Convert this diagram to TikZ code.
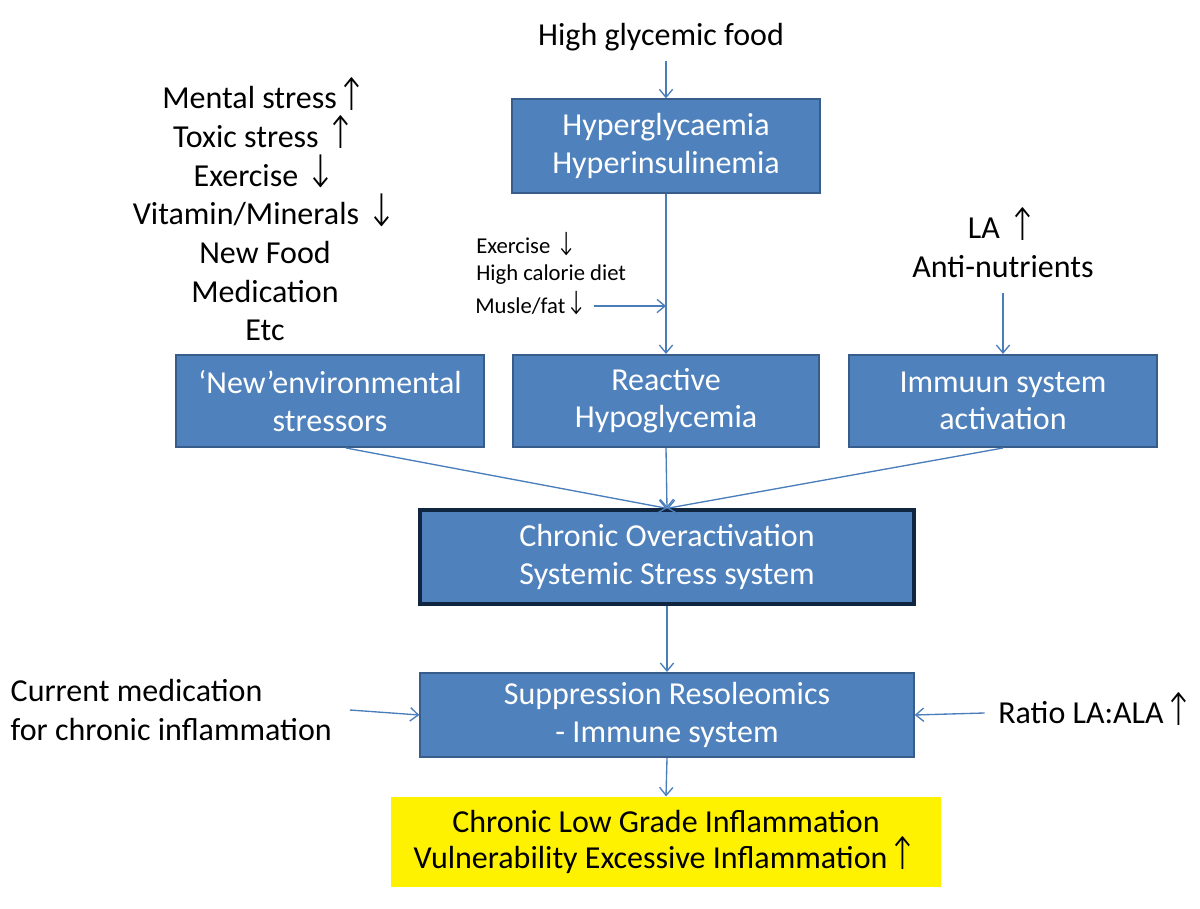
\documentclass[tikz,border=0pt]{standalone}
\usepackage{fontspec}
\setmainfont{Carlito}
\newfontfamily\arrowfont{DejaVu Sans ExtraLight}
\usetikzlibrary{arrows.meta,positioning}
\definecolor{boxblue}{HTML}{4F81BD}
\definecolor{boxline}{HTML}{385D8A}
\definecolor{darkline}{HTML}{10253F}
\definecolor{arrowblue}{HTML}{4A7EBB}
\newcommand{\upar}{\raisebox{-1pt}[0pt][0pt]{\scalebox{1.15}[1.4]{\arrowfont\char"2191}}}
\newcommand{\downar}{\raisebox{-1pt}[0pt][0pt]{\scalebox{1.15}[1.4]{\arrowfont\char"2193}}}
\tikzset{
  bluebox/.style = {draw = boxline, line width = 1.5pt, fill = boxblue,
                    text = white, align = center,
                    font = \fontsize{24}{28}\selectfont},
  label/.style = {align = center, font = \fontsize{24}{29}\selectfont},
  small/.style = {anchor = west, inner sep = 0pt, font = \fontsize{17}{22}\selectfont},
  arr/.style = {draw = arrowblue, line width = 1pt,
                -{Straight Barb[length=6pt,width=10pt]}}
}

\begin{document}
\begin{tikzpicture}[x = 0.75pt, y = -0.75pt]

  \useasboundingbox (0,0) rectangle (1200,909);

  % top chain
  \node[label] (food) at (661,37) {High glycemic food};
  \node[bluebox, minimum width = 231pt, minimum height = 70pt] (hyper) at (666,146)
       {Hyperglycaemia\\Hyperinsulinemia};

  % inputs left
  \node[label] (stress) at (265,214)
       {Mental stress\upar\\Toxic stress \upar\\Exercise \downar\\Vitamin/Minerals \downar\\New Food\\Medication\\Etc};

  \node[small] (exer) at (476,246) {Exercise \downar};
  \node[small] (diet) at (476,275) {High calorie diet};
  \node[small] (musle) at (475,306) {Musle/fat\downar};

  \node[label] (la) at (1003,248) {LA \upar\\Anti-nutrients};

  % middle row
  \node[bluebox, minimum width = 231pt, minimum height = 69pt] (newenv) at (330,401)
       {‘New’environmental\\stressors};
  \node[bluebox, minimum width = 229pt, minimum height = 69pt] (reactive) at (666,401)
       {Reactive\\Hypoglycemia};
  \node[bluebox, minimum width = 231pt, minimum height = 69pt] (immuun) at (1003,401)
       {Immuun system\\activation};

  % lower chain
  \node[bluebox, draw = darkline, line width = 3pt, minimum width = 370pt, minimum height = 70pt]
       (chronic) at (667,557) {Chronic Overactivation\\Systemic Stress system};
  \node[bluebox, minimum width = 370pt, minimum height = 63pt] (supp) at (667,715)
       {Suppression Resoleomics\\- Immune system};
  \node[align = center, fill = yellow, minimum width = 412.5pt, minimum height = 68pt,
        font = \fontsize{24}{27}\selectfont] (result) at (666,842)
       {Chronic Low Grade Inflammation\\Vulnerability Excessive Inflammation\upar};

  \node[label, align = left, anchor = west] (med) at (6,710)
       {Current medication\\for chronic inflammation};
  \node[label, anchor = west, inner sep = 0pt] (ratio) at (998,713) {Ratio LA:ALA\upar};

  % connectors
  \draw[arr] ([yshift = -4pt]food.south -| hyper.center) -- (hyper.north);
  \draw[arr] (hyper.south) -- (reactive.north);
  \draw[arr] ([xshift = 5pt]musle.east) -- (musle.east -| hyper.center);
  \draw[arr] ([yshift = -8pt]la.south) -- (immuun.north);

  \draw[arr] ([xshift = 12pt]newenv.south) -- (chronic.north);
  \draw[arr] (reactive.south) -- (chronic.north);
  \draw[arr] (immuun.south) -- (chronic.north);

  \draw[arr] (chronic.south) -- (supp.north);
  \draw[arr] ([xshift = 10pt]med.east) -- (supp.west);
  \draw[arr] ([xshift = -10pt]ratio.west) -- (supp.east);
  \draw[arr] (supp.south) -- (result.north);

\end{tikzpicture}
\end{document}
